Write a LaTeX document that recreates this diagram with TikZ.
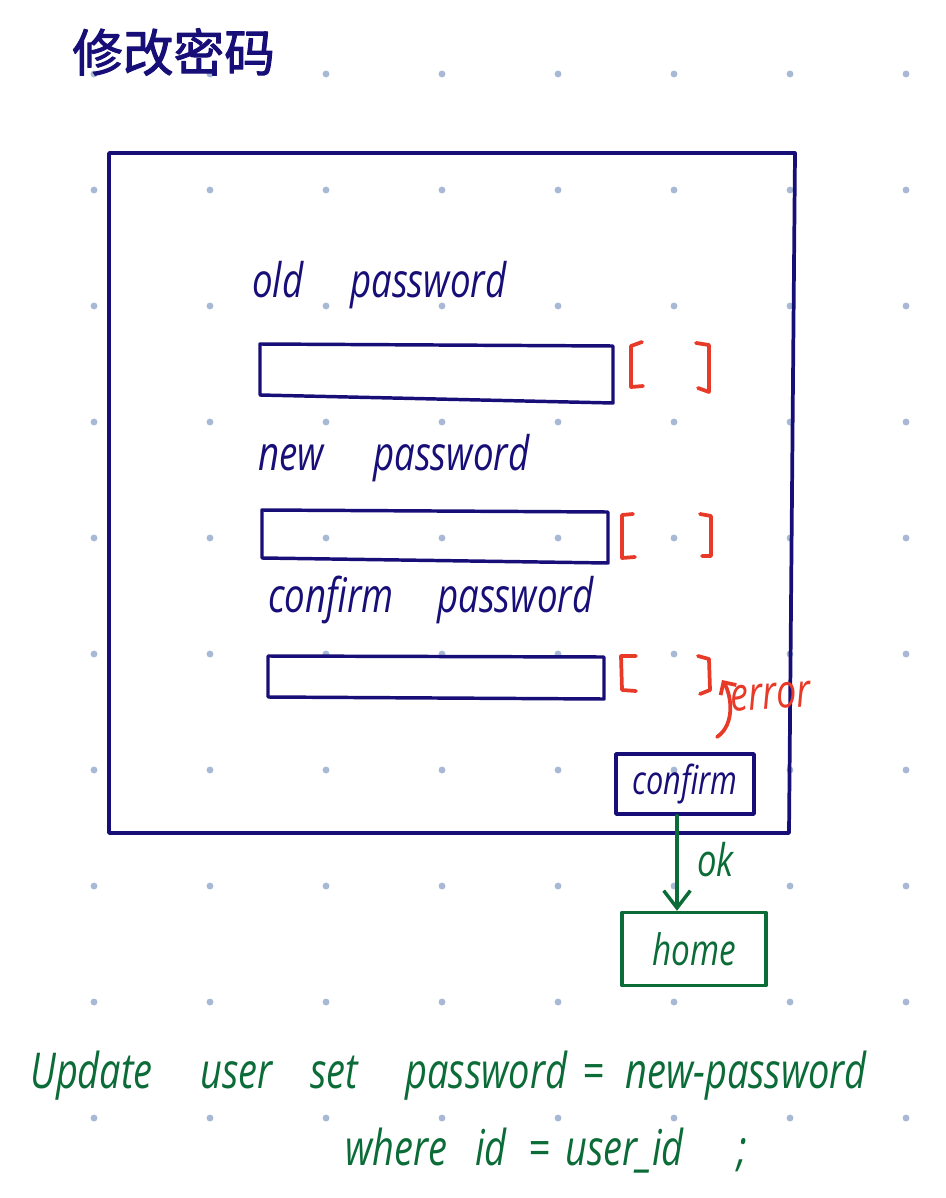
\documentclass[tikz,border=0pt]{standalone}
\usepackage{fontspec}
\setmainfont{Open Sans}
\newfontfamily\cjk[FakeBold=2]{Noto Sans CJK SC}
\usetikzlibrary{arrows.meta}
\definecolor{navy}{RGB}{24,14,120}
\definecolor{hred}{RGB}{232,58,40}
\definecolor{hgreen}{RGB}{12,108,56}
\definecolor{dotc}{RGB}{168,185,214}
\newcommand{\hw}[1]{\scalebox{1}[1.3]{\itshape #1}}
\begin{document}
\begin{tikzpicture}[x=0.75pt,y=-0.75pt,line cap=round,line join=round,
  frame/.style={draw=navy,line width=2.8pt},
  field/.style={draw=navy,line width=2.6pt},
  br/.style={draw=hred,line width=2.8pt},
  gline/.style={draw=hgreen,line width=2.6pt},
  lbl/.style={text=navy,font=\fontsize{27.5}{30}\selectfont,inner sep=0,anchor=base west},
  sql/.style={text=hgreen,font=\fontsize{28.5}{30}\selectfont,inner sep=0,anchor=base west},
  btn/.style={draw=navy,line width=2.6pt,minimum width=103.5pt,minimum height=45pt,inner sep=0,text=navy,font=\fontsize{23}{26}\selectfont},
  homebox/.style={draw=hgreen,line width=2.6pt,minimum width=108pt,minimum height=54.75pt,inner sep=0,text=hgreen,font=\fontsize{25}{28}\selectfont}]
\path[use as bounding box] (0,0) rectangle (945,1198);
% dot grid
\foreach \i in {0,...,7} \foreach \j in {0,...,9}
  \fill[dotc] (94+116*\i,74+116*\j) circle (2.6pt);
% title
\node[anchor=west,inner sep=0,text=navy,font=\cjk\fontsize{38}{40}\selectfont] (title) at (72,52) {修改密码};
% frame
\draw[frame] (109,153) -- (795,153) -- (789,833) -- (109,833) -- cycle;
% labels
\node[lbl] (l1a) at (252,297) {\hw{old}};
\node[lbl] (l1b) at (350,297) {\hw{password}};
\node[lbl] (l2a) at (258,470) {\hw{new}};
\node[lbl] (l2b) at (373,470) {\hw{password}};
\node[lbl] (l3a) at (268,612) {\hw{confirm}};
\node[lbl] (l3b) at (437,612) {\hw{password}};
% fields
\draw[field] (260,344) -- (613,346) -- (613,403) -- (260,395) -- cycle;
\draw[field] (262,510) -- (608,512) -- (608,563) -- (262,558) -- cycle;
\draw[field] (268,656) -- (604,657) -- (604,699) -- (268,697) -- cycle;
% brackets
\draw[br] (642,342) -- (631,346) -- (631,387) -- (643,386);
\draw[br] (696,343) -- (709,345) -- (709,392) -- (698,388);
\draw[br] (633,514) -- (622,515) -- (622,558) -- (635,557);
\draw[br] (700,514) -- (711,516) -- (711,556) -- (702,556);
\draw[br] (636,656) -- (621,656) -- (622,690) -- (636,691);
\draw[br] (698,656) -- (709,659) -- (710,690) -- (700,694);
% error
\node[text=hred,font=\fontsize{27}{30}\selectfont,inner sep=0,anchor=base west,rotate=4] (err) at (731,712) {\hw{error}};
\coordinate (e0) at (717,737);
\coordinate (e1) at (722,680);
\draw[br,-{Straight Barb[length=7pt,width=14pt]}] (e0) .. controls (736,724) and (731,694) .. (e1);
% confirm button and home
\node[btn] (confirm) at (685,784) {\hw{confirm}};
\node[homebox] (home) at (694,949) {\hw{home}};
\draw[gline,-{Straight Barb[length=13pt,width=20pt]}] ([xshift=-6pt]confirm.south) -- ([xshift=-6pt]confirm.south |- home.north);
\node[text=hgreen,font=\fontsize{26}{28}\selectfont,inner sep=0,anchor=base west] (ok) at (697,876) {\hw{ok}};
% SQL
\node[sql] (s1) at (30,1088) {\hw{Update}};
\node[sql] (s2) at (200,1088) {\hw{user}};
\node[sql] (s3) at (310,1088) {\hw{set}};
\node[sql] (s4) at (405,1088) {\hw{password}};
\node[sql] (s5) at (582,1088) {\hw{=}};
\node[sql] (s6) at (625,1088) {\hw{new-password}};
\node[sql] (t1) at (345,1165) {\hw{where}};
\node[sql] (t2) at (475,1165) {\hw{id}};
\node[sql] (t3) at (528,1165) {\hw{=}};
\node[sql] (t4) at (565,1165) {\hw{user\_id}};
\node[sql] (t5) at (737,1165) {\hw{;}};
\end{tikzpicture}
\end{document}
